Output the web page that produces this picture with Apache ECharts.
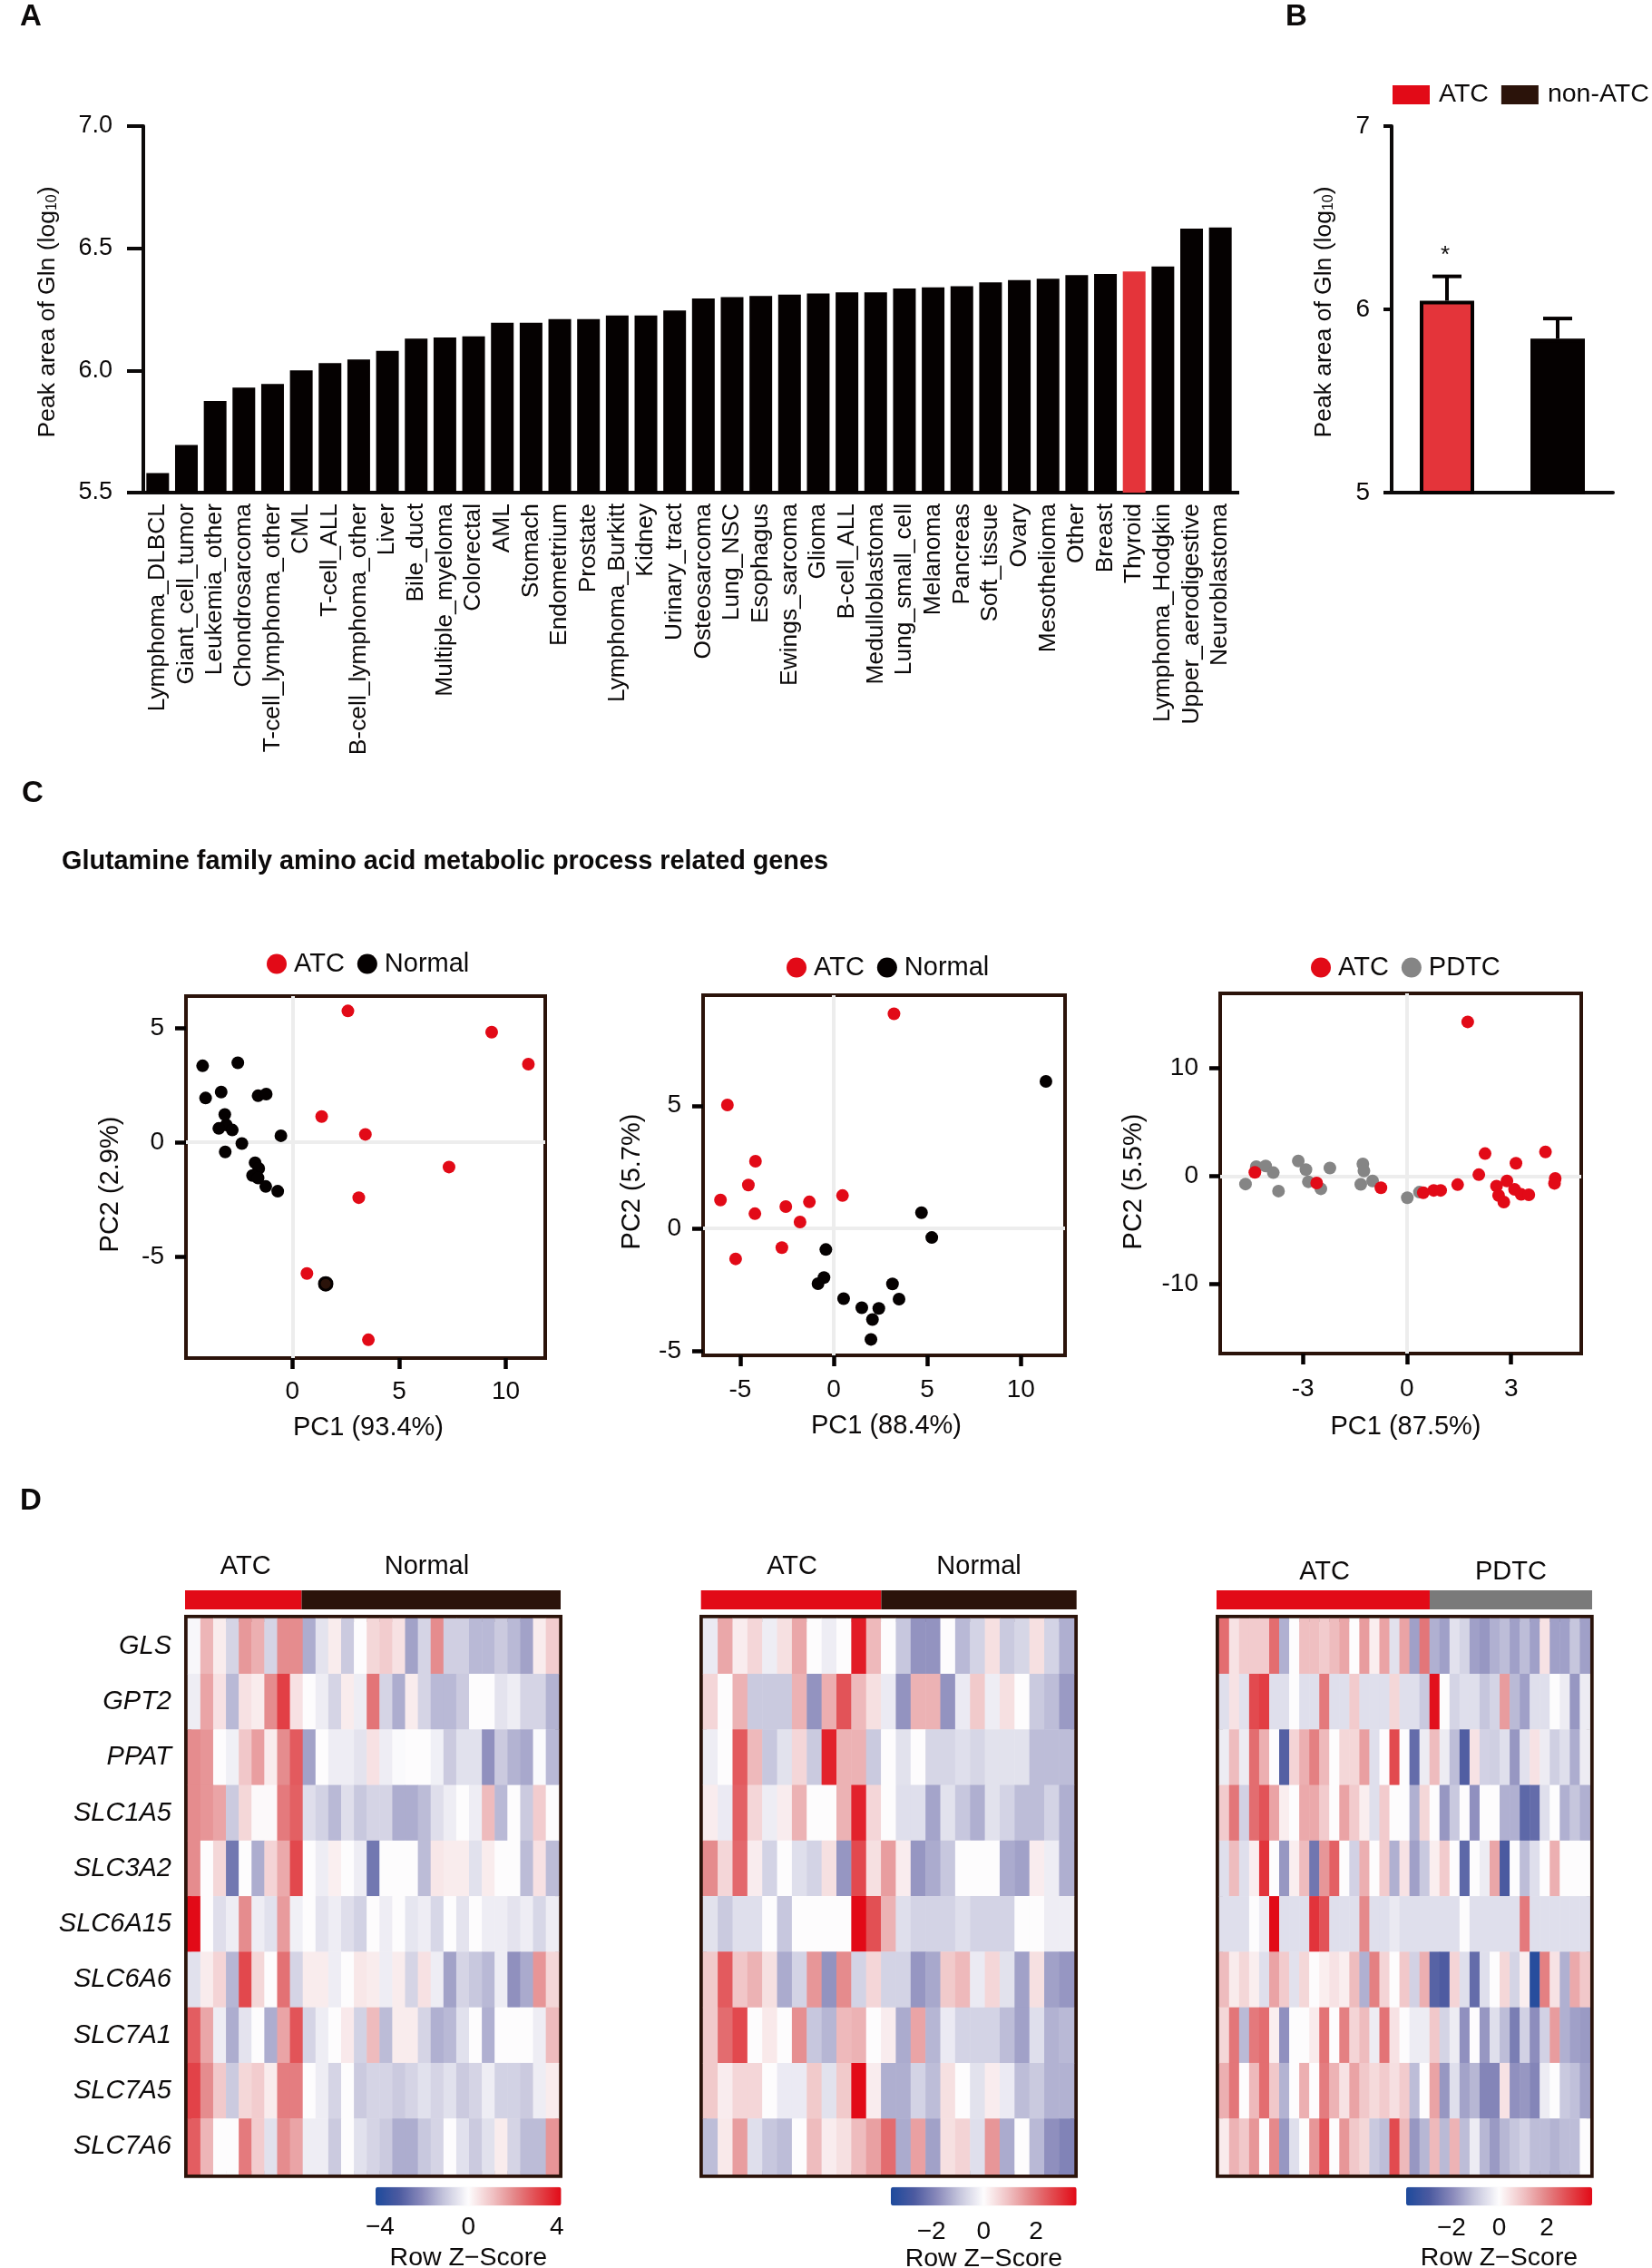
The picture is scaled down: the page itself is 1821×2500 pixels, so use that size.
<!DOCTYPE html>
<html>
<head>
<meta charset="utf-8">
<title>Gln figure</title>
<script src="https://cdn.jsdelivr.net/npm/echarts@6/dist/echarts.min.js"></script>
<style>
  html, body { margin: 0; padding: 0; background: #fff; }
  #main { width: 1821px; height: 2500px; }
</style>
</head>
<body>
<div id="main"></div>
<script>
// panel A
const tumorTypes = ['Lymphoma_DLBCL','Giant_cell_tumor','Leukemia_other','Chondrosarcoma','T-cell_lymphoma_other','CML','T-cell_ALL','B-cell_lymphoma_other','Liver','Bile_duct','Multiple_myeloma','Colorectal','AML','Stomach','Endometrium','Prostate','Lymphoma_Burkitt','Kidney','Urinary_tract','Osteosarcoma','Lung_NSC','Esophagus','Ewings_sarcoma','Glioma','B-cell_ALL','Medulloblastoma','Lung_small_cell','Melanoma','Pancreas','Soft_tissue','Ovary','Mesothelioma','Other','Breast','Thyroid','Lymphoma_Hodgkin','Upper_aerodigestive','Neuroblastoma'];
const tumorGln = [5.58,5.695,5.875,5.93,5.945,6.0,6.03,6.045,6.08,6.13,6.135,6.14,6.195,6.195,6.21,6.21,6.225,6.225,6.245,6.295,6.30,6.305,6.31,6.315,6.32,6.32,6.335,6.34,6.345,6.36,6.37,6.375,6.39,6.395,6.405,6.425,6.58,6.585];

// panel B
const groupNames = ['ATC','non-ATC'];
const groupMean = [6.047,5.84];
const groupErrTop = [6.18,5.95];
const groupMark = ['*',''];

// panel C, [PC1, PC2]
const pcaLeftAtc = [[2.6,5.74],[9.34,4.81],[11.06,3.41],[1.37,1.12],[3.42,0.34],[7.34,-1.09],[3.11,-2.43],[0.68,-5.75],[3.56,-8.65]];
const pcaLeftNormal = [[-4.21,3.34],[-2.56,3.47],[-3.34,2.19],[-4.07,1.93],[-1.61,2.03],[-1.23,2.1],[-3.17,1.21],[-3.1,0.75],[-3.45,0.6],[-2.82,0.53],[-0.54,0.28],[-2.37,-0.06],[-3.15,-0.43],[-1.75,-0.9],[-1.58,-1.15],[-1.87,-1.46],[-1.61,-1.57],[-1.25,-1.94],[-0.69,-2.15],[1.56,-6.2]];
const pcaMidAtc = [[3.22,8.74],[-5.68,5.03],[-4.18,2.74],[-4.56,1.77],[-6.05,1.16],[0.47,1.34],[-1.3,1.08],[-2.56,0.89],[-4.21,0.6],[-1.8,0.26],[-2.77,-0.78],[-5.24,-1.24]];
const pcaMidNormal = [[11.34,5.99],[4.69,0.64],[5.24,-0.37],[-0.42,-0.86],[-0.52,-2.0],[-0.84,-2.25],[0.53,-2.86],[1.5,-3.23],[2.41,-3.26],[2.07,-3.71],[1.99,-4.52],[3.14,-2.26],[3.49,-2.88]];
const pcaRightAtc = [[1.75,14.24],[3.99,2.23],[2.25,2.07],[3.14,1.18],[2.07,0.12],[2.88,-0.46],[4.27,-0.22],[4.25,-0.68],[2.58,-0.93],[3.1,-1.24],[2.64,-1.8],[2.79,-2.41],[3.29,-1.7],[3.51,-1.73],[1.46,-0.8],[0.77,-1.33],[0.97,-1.33],[0.47,-1.55],[-0.75,-1.08],[-2.6,-0.65],[-4.38,0.34]];
const pcaRightPdtc = [[-4.65,-0.74],[-4.34,0.87],[-4.07,0.93],[-3.85,0.31],[-3.7,-1.39],[-3.13,1.39],[-2.91,0.59],[-2.84,-0.53],[-2.48,-1.18],[-2.22,0.74],[-1.27,1.11],[-1.24,0.46],[-1.33,-0.77],[-0.99,-0.46],[0.01,-2.01],[0.36,-1.49]];

// panel D, rows follow geneNames, columns are samples
const geneNames = ['GLS','GPT2','PPAT','SLC1A5','SLC3A2','SLC6A15','SLC6A6','SLC7A1','SLC7A5','SLC7A6'];
const heatLeft = [
  [-0.1,1.3,0.3,-0.8,1.8,1.4,-0.8,2,2,-1.5,-0.5,0.3,-1,0,0.7,0.9,0.5,-1.7,-0.8,2,-0.9,-0.9,-1.3,-1.3,-1,-1.3,-1.7,0.3,0.9],
  [-0.3,1.6,0.5,-1.3,0.5,0.3,2,3.3,0.5,0,-0.3,-0.8,0.3,-0.3,2.4,-0.8,-1.5,0.3,-0.8,-1.3,-1.3,-1,0,0,-0.5,-0.3,-0.8,-0.8,-1.4],
  [2,1.85,0,-0.25,1,1.7,0.3,2,2.85,-1.7,0,-0.3,-0.3,-0.5,0.5,-0.3,-0.05,0,0,-0.25,-1,-0.55,-0.55,-2,-1,-1.4,-1.6,-0.05,-1.3],
  [2,1.85,1.6,-1,0.7,0.05,0.05,2.3,2.75,-0.6,-0.85,-1.3,-0.6,-1.05,-0.8,-0.8,-1.5,-1.5,-1.25,-0.6,-0.3,0,-0.3,1.2,-1.3,0,-1,0.9,0],
  [2,0,0.7,-2.5,0,-1.5,0.75,1.5,3.15,0,-0.3,0.25,0,-0.3,-2.5,0,0,0,-1.25,0.4,0.3,0.3,-0.55,0.3,0,0,-1.25,0.5,-1.25],
  [4.2,0,-0.6,-0.3,2,-0.3,-0.55,1.75,-0.25,0,-0.5,-0.3,-0.6,-0.85,0,-0.3,0,-0.45,-0.3,-0.75,0,-0.5,0,-0.3,-0.3,-0.5,-0.3,-0.75,-0.3],
  [-0.55,0.3,0.75,-1.35,3.15,0.7,0,2.45,-0.8,0.3,0.3,-0.3,0,0.4,0.3,-0.3,0.3,-0.8,0.5,-0.3,-1.7,-0.8,-1.05,-1.3,-0.3,-2,-1.55,1.85,0.7],
  [2.8,1.55,-0.3,-1.5,-0.5,0,-1.5,1.6,2.95,-0.8,-0.3,0,0.35,-0.85,1.2,-1.25,0.3,0.3,-0.8,-1.45,-1.3,-0.55,0,-1.45,0,0,0,-0.3,1.2],
  [3.25,2,0.95,-1,0.7,0.9,0.3,2.25,2.25,0,-0.3,-0.8,0,-1,-0.8,-0.8,-1,-0.8,-0.55,-0.8,-0.55,-1,-0.8,-0.3,-0.85,-0.85,-1,-0.3,0.3],
  [2.8,1.3,0,0,2.3,0.9,-0.55,2,1.6,-0.3,-0.3,-1,0,-0.55,-0.8,-1,-1.5,-1.5,-1.05,-0.8,0,-0.55,-1,-0.55,0.3,-0.8,-1.25,-1.25,1.85]
];
const heatMid = [
  [-0.3,1.3,0.25,0.6,-0.25,0.45,1.3,0,-0.25,0,3.3,1.05,0,-0.9,-1.65,-1.65,0,-1.1,-0.7,0.45,-0.85,-0.65,0.45,-0.7,-1.25],
  [0.6,0,1.15,-0.85,-0.85,-0.85,1.15,-1.65,1.2,2.5,1.05,0.45,-0.3,-1.65,1.15,1.15,-1.65,-0.3,0.8,-0.25,0.45,0,-0.85,-1.05,-1.55],
  [-0.25,0,2.4,1.05,-0.9,-0.45,0.6,-0.85,3.2,1.15,1.15,-0.85,0,-0.45,0,-0.65,-0.65,-0.5,-0.65,-0.45,-0.45,-0.45,-1.05,-1.05,-1.05],
  [0.25,-0.3,2.3,0.6,-0.25,0.25,1.15,0,0,1.15,3.2,0.6,0,-0.5,-0.5,-1.4,-0.45,-0.9,-1.25,-0.45,-0.7,-1.05,-1.05,-0.7,-1.25],
  [1.7,0.6,2.2,0.25,-0.7,0,-0.5,-0.7,0.45,-1.6,2.65,0.45,1.45,0.25,-1.6,-1.3,-0.9,0,0,0,-1.3,-1.45,0.25,-0.25,-1.25],
  [-0.45,-0.85,-0.5,-0.5,0,-0.9,0,0,0,0,3.55,2.55,1.15,-0.5,-0.7,-0.7,-0.7,-0.5,-0.7,-0.7,-0.7,0,0,-0.25,-0.25],
  [0.8,2.4,0.85,1.15,0.45,-1.3,-0.7,1.55,-1.65,1.7,-0.7,0.6,-0.7,-0.7,-1.6,-1.35,0.8,1.05,-0.3,0.6,-0.45,-1.45,0.45,-1.45,-1.6],
  [0.8,2.15,2.65,0,0.3,0,1.65,-0.9,-1.15,1.05,1.15,0,0.25,-1.3,1.35,-1.15,-0.3,-0.7,-0.7,-0.7,-1.05,-1.45,-0.5,-1.2,-1.1],
  [0.8,0.25,0.6,0.6,0,-0.3,-0.3,0.8,-0.45,0.8,3.55,0.25,-1.25,-1.25,-0.7,-1.05,0.45,0,-0.45,0.25,-0.3,-1.05,-0.85,-1.2,-1.2],
  [-1.05,0.3,1.45,-0.5,-0.9,-1.05,0,1,0.25,0.45,1,1.4,2.15,-1.3,1.4,-1.45,0.45,0.65,-0.5,1.55,-1.3,0,-1.1,-1.7,-1.9]
];
const heatRight = [
  [2.35,0.45,0.85,0.85,0.85,2.35,-1.35,0,1.05,1.05,0.85,1.1,1.45,0,1.6,0.25,1.5,-0.5,1.5,-1.6,2.2,-1.35,-1.6,-0.5,-0.75,-1.6,-1.75,-1.35,-1.15,-1.6,-1.15,-1.6,0.45,-1.6,-1.6,-1,-1.6],
  [-0.55,0.45,-0.5,2.9,3.1,-0.55,-0.55,0,-0.55,-0.55,2.15,-0.55,-0.55,0.85,-0.55,-0.55,-0.55,0.65,-0.55,-0.55,-0.95,3.8,0,-0.75,-0.55,-0.55,-1,-0.75,1.6,-1.2,-1.6,-0.55,-0.55,0,-0.3,-1.75,-0.3],
  [-0.3,1.1,-0.3,2.35,1.3,0,-2.8,0.7,1.3,2.05,1.15,0,0.65,0.65,1.55,-0.55,0,2.9,0,-2.55,-0.3,1.1,-0.3,-1.15,-2.85,0.45,-0.8,-0.85,-0.55,-1.75,-0.5,0.45,-0.3,-0.85,-0.55,-1.4,-0.3],
  [0.85,2.2,-0.8,2.35,2.75,1.5,0.25,0,1.4,1.4,0.85,0,1.5,0.85,0.25,-0.55,0.85,0,0,-1.35,0.65,0,-1.75,-0.95,0,-1.85,0,0,-1.35,-1.35,-2.65,-2.55,-0.55,0,-1.35,-1,-1.35],
  [-0.55,1.1,-0.55,0.25,3.25,0,-1.75,0.25,1.1,-2.35,1.7,2.55,0,-0.8,1.3,0,0.85,-1.35,0.45,-1.6,-0.95,0.25,0.85,0,-2.65,0,-0.3,1.45,-2.95,0,-1.15,-0.55,0,1.3,0,0,0],
  [-0.55,-0.55,-0.55,0,-0.3,3.9,-0.55,-0.55,-0.55,3.25,2.75,-0.55,-0.55,-0.55,1.9,-0.55,-0.55,-0.35,-0.55,-0.55,-0.55,-0.55,-0.55,-0.55,0,-0.55,-0.55,-0.55,-0.55,-0.55,2.15,-0.55,-0.55,-0.55,-0.55,-0.55,-0.55],
  [1.1,0.3,0.65,0.25,-0.55,1.5,0.85,-0.5,0.65,0,0.25,0.45,0.25,1.1,-1.35,2.05,0.7,0,0.9,-0.8,1.3,-2.75,-2.9,0.7,-0.55,-2.55,-0.55,0,0.65,-0.75,0.25,-3.7,2.05,0.45,-1.35,1.4,0.9],
  [0.65,2.2,-1.2,2.15,2.35,0.25,-1.85,0,0,0.3,2.25,0,2.05,0.7,1.1,-0.3,2.25,0.45,0,-0.3,-0.3,0.9,-0.75,-0.3,-1.85,0,-1.75,-0.55,-1.15,-2.2,-0.8,-1.9,-0.8,1.6,-1.35,-1.6,-1.7],
  [1.3,2.2,0,1.15,2.35,0.9,-1.3,0,1.3,0,2.1,1.25,0.45,1.5,0.9,0.6,0.85,0.5,0.85,-1.15,0,1.5,-1.75,-0.55,-1.55,-1.25,-2.05,-2.05,0.45,-1.85,-1.75,-2.05,-0.3,0,-0.95,-1.1,-1.55],
  [0.3,1.25,0.9,1.7,0,1.9,-1.75,-0.55,0,1.7,2.75,0,1.7,0.9,0.65,-0.95,-1.15,2.9,1.15,-1.75,-1.25,1.15,-1.2,1.25,-1.15,-0.3,-1.25,-1.7,-1.25,-1,-0.8,-1.15,-1.15,-1.3,-1.15,-1.15,0]
];

const FONT = '"Liberation Sans", Arial, sans-serif';
const INK = '#0c0a0a';
const RED = '#e20a17';
const BROWN = '#2b130a';
const GREY = '#858585';
const ramp = ['#1d4a9c','#4c5aa0','#8a8abb','#c8c8de','#fdfcfd','#f0c4c6','#e48688','#e2484d','#e20a17'];

const grids = [], xAxes = [], yAxes = [], series = [], legends = [], visualMaps = [];

function addGrid(g, x, y) {
  const idx = grids.length;
  grids.push(g);
  xAxes.push(Object.assign({ gridIndex: idx }, x));
  yAxes.push(Object.assign({ gridIndex: idx }, y));
  return idx;
}

const glnTitleStyle = {
  padding: [0, 6, 0, 0],
  rich: {
    t: { fontSize: 26.5, color: INK, fontFamily: FONT },
    s: { fontSize: 16, color: INK, fontFamily: FONT, verticalAlign: 'bottom' }
  }
};

// panel A
const gridA = addGrid({ left: 158, top: 139, width: 1203, height: 404 }, {
  type: 'category', data: tumorTypes,
  axisLine: { lineStyle: { color: INK, width: 4 } },
  axisTick: { show: false },
  axisLabel: { rotate: 90, interval: 0, fontSize: 26.4, margin: 12, color: INK, fontFamily: FONT }
}, {
  type: 'value', min: 5.5, max: 7, interval: 0.5,
  name: '{t|Peak area of Gln (log}{s|10}{t|)}', nameLocation: 'middle', nameGap: 92, nameRotate: 90,
  nameTextStyle: glnTitleStyle,
  axisLine: { show: true, lineStyle: { color: INK, width: 4 } },
  axisTick: { show: true, length: 18, lineStyle: { color: INK, width: 4 } },
  axisLabel: { fontSize: 27, margin: 34, color: INK, fontFamily: FONT, padding: [3, 0, 0, 0], formatter: v => v.toFixed(1) },
  splitLine: { show: false }
});
series.push({
  type: 'bar', xAxisIndex: gridA, yAxisIndex: gridA, barWidth: 25, silent: true,
  data: tumorGln.map((v, i) => ({ value: v, itemStyle: { color: tumorTypes[i] === 'Thyroid' ? '#e4343a' : '#050101' } }))
});

// panel B
const gridB = addGrid({ left: 1534, top: 139, width: 244, height: 404 }, {
  type: 'category', data: groupNames,
  axisLine: { lineStyle: { color: INK, width: 4 } },
  axisTick: { show: false }, axisLabel: { show: false }
}, {
  type: 'value', min: 5, max: 7, interval: 1,
  name: '{t|Peak area of Gln (log}{s|10}{t|)}', nameLocation: 'middle', nameGap: 61, nameRotate: 90,
  nameTextStyle: glnTitleStyle,
  axisLine: { show: true, lineStyle: { color: INK, width: 4 } },
  axisTick: { show: true, length: 9, lineStyle: { color: INK, width: 4 } },
  axisLabel: { fontSize: 28, margin: 24, color: INK, fontFamily: FONT, padding: [3, 0, 0, 0] },
  splitLine: { show: false }
});
series.push({
  name: 'ATC', type: 'bar', xAxisIndex: gridB, yAxisIndex: gridB, barWidth: 60, barGap: '-100%', silent: true,
  itemStyle: { color: '#e4343a', borderColor: '#050101', borderWidth: 4 },
  data: [groupMean[0], '-']
});
series.push({
  name: 'non-ATC', type: 'bar', xAxisIndex: gridB, yAxisIndex: gridB, barWidth: 60, barGap: '-100%', silent: true,
  itemStyle: { color: '#050101', borderColor: '#050101', borderWidth: 4 },
  data: ['-', groupMean[1]]
});
series.push({
  type: 'custom', xAxisIndex: gridB, yAxisIndex: gridB, silent: true, z: 1,
  data: groupNames.map((n, i) => [i, groupErrTop[i], groupMean[i]]),
  renderItem: (params, api) => {
    const top = api.coord([api.value(0), api.value(1)]);
    const bottom = api.coord([api.value(0), api.value(2)]);
    const style = { stroke: '#050101', lineWidth: 4, fill: null };
    const kids = [
      { type: 'line', shape: { x1: top[0], y1: top[1], x2: bottom[0], y2: bottom[1] }, style },
      { type: 'line', shape: { x1: top[0] - 16, y1: top[1], x2: top[0] + 16, y2: top[1] }, style }
    ];
    const mark = groupMark[params.dataIndex];
    if (mark) {
      kids.push({ type: 'text', style: { text: mark, x: top[0] - 2, y: top[1] - 23, fill: INK, fontSize: 26, fontFamily: FONT, align: 'center', verticalAlign: 'middle' } });
    }
    return { type: 'group', children: kids };
  }
});
legends.push({
  left: 1535, top: 90, padding: 0, icon: 'rect', itemWidth: 41, itemHeight: 21, itemGap: 14, selectedMode: false,
  textStyle: { fontSize: 28.5, color: INK, fontFamily: FONT, padding: [0, 0, 0, 5] },
  data: [
    { name: 'ATC', itemStyle: { color: RED, borderWidth: 0 } },
    { name: 'non-ATC', itemStyle: { color: BROWN, borderWidth: 0 } }
  ]
});

// panel C
function addPca(p) {
  const idx = addGrid({
    left: p.box[0], top: p.box[1], width: p.box[2] - p.box[0], height: p.box[3] - p.box[1],
    show: true, borderColor: BROWN, borderWidth: 4, backgroundColor: 'transparent'
  }, {
    type: 'value', min: p.xRange[0], max: p.xRange[1],
    name: p.xName, nameLocation: 'middle', nameGap: p.xNameGap,
    nameTextStyle: { fontSize: 29, color: INK, fontFamily: FONT, padding: [0, 0, 0, p.xNameShift] },
    axisLine: { show: true, onZero: false, lineStyle: { color: BROWN, width: 4 } }, splitLine: { show: false },
    axisTick: { show: true, length: 12, lineStyle: { color: '#050101', width: 4.5 }, customValues: p.xTicks },
    axisLabel: { fontSize: 28, margin: p.xLabelMargin, color: INK, fontFamily: FONT, customValues: p.xTicks }
  }, {
    type: 'value', min: p.yRange[0], max: p.yRange[1],
    name: p.yName, nameLocation: 'middle', nameGap: p.yNameGap, nameRotate: 90,
    nameTextStyle: { fontSize: 29, color: INK, fontFamily: FONT, padding: [0, p.yNameShift, 0, 0] },
    axisLine: { show: true, onZero: false, lineStyle: { color: BROWN, width: 4 } }, splitLine: { show: false },
    axisTick: { show: true, length: 12, lineStyle: { color: '#050101', width: 4.5 }, customValues: p.yTicks },
    axisLabel: { fontSize: 28, margin: 24, color: INK, fontFamily: FONT, padding: [3, 0, 0, 0], customValues: p.yTicks }
  });
  series.push({
    name: p.firstName, type: 'scatter', xAxisIndex: idx, yAxisIndex: idx, symbolSize: 14, silent: true,
    itemStyle: { color: p.firstColor, opacity: 1 },
    data: p.first.map((pt, i) => i === p.accent ? { value: pt, itemStyle: { color: BROWN, borderColor: '#050101', borderWidth: 3 } } : pt),
    markLine: {
      silent: true, symbol: 'none', label: { show: false }, animation: false, z: 1,
      lineStyle: { color: '#ededed', width: 4, type: 'solid' },
      data: [{ xAxis: 0 }, { yAxis: 0 }]
    }
  });
  series.push({
    name: p.secondName, type: 'scatter', xAxisIndex: idx, yAxisIndex: idx, symbolSize: 14, silent: true,
    itemStyle: { color: p.secondColor, opacity: 1 }, data: p.second
  });
  legends.push({
    left: p.legendLeft, top: p.legendTop, padding: 0, icon: 'circle', itemWidth: 22, itemHeight: 22, itemGap: 14, selectedMode: false,
    textStyle: { fontSize: 29, color: INK, fontFamily: FONT, padding: [0, 0, 0, 3] },
    data: p.legend.map(n => ({ name: n[0], itemStyle: { color: n[1], borderWidth: 0 } }))
  });
}

addPca({
  box: [205, 1098, 601, 1497], xRange: [-4.99, 11.85], yRange: [-9.45, 6.39], xTicks: [0, 5, 10], yTicks: [-5, 0, 5],
  xName: 'PC1 (93.4%)', xNameShift: 6, xNameGap: 62, xLabelMargin: 23, yName: 'PC2 (2.9%)', yNameShift: 16, yNameGap: 69,
  firstName: 'Normal', firstColor: '#050101', first: pcaLeftNormal, accent: pcaLeftNormal.length - 1,
  secondName: 'ATC', secondColor: RED, second: pcaLeftAtc,
  legendLeft: 294, legendTop: 1048,
  legend: [['ATC', RED], ['Normal', '#050101']]
});
addPca({
  box: [775, 1097, 1174, 1494], xRange: [-6.98, 12.36], yRange: [-5.17, 9.5], xTicks: [-5, 0, 5, 10], yTicks: [-5, 0, 5],
  xName: 'PC1 (88.4%)', xNameShift: 5, xNameGap: 63, xLabelMargin: 24, yName: 'PC2 (5.7%)', yNameShift: 14, yNameGap: 64,
  firstName: 'Normal', firstColor: '#050101', first: pcaMidNormal, accent: -1,
  secondName: 'ATC', secondColor: RED, second: pcaMidAtc,
  legendLeft: 867, legendTop: 1052,
  legend: [['ATC', RED], ['Normal', '#050101']]
});
addPca({
  box: [1345, 1095, 1743, 1492], xRange: [-5.38, 5.02], yRange: [-16.4, 16.87], xTicks: [-3, 0, 3], yTicks: [-10, 0, 10],
  xName: 'PC1 (87.5%)', xNameShift: 11, xNameGap: 66, xLabelMargin: 25, yName: 'PC2 (5.5%)', yNameShift: 18, yNameGap: 81,
  firstName: 'PDTC', firstColor: GREY, first: pcaRightPdtc, accent: -1,
  secondName: 'ATC', secondColor: RED, second: pcaRightAtc,
  legendLeft: 1445, legendTop: 1052,
  legend: [['ATC', RED], ['PDTC', GREY]]
});

// panel D
function addHeat(h) {
  const cols = h.rows[0].map((v, i) => i);
  const cells = [];
  h.rows.forEach((row, r) => row.forEach((z, c) => cells.push([c, r, z])));
  const idx = addGrid({
    left: h.cells[0], top: 1784, width: h.cells[1] - h.cells[0], height: 612.7,
    show: true, borderColor: BROWN, borderWidth: 8, backgroundColor: '#fff'
  }, {
    type: 'category', data: cols, show: false
  }, {
    type: 'category', data: geneNames, inverse: true,
    axisLine: { show: false }, axisTick: { show: false },
    axisLabel: { show: h.labels, interval: 0, fontSize: 29, fontStyle: 'italic', margin: 18, color: INK, fontFamily: FONT }
  });
  const heatIndex = series.length;
  series.push({ type: 'heatmap', xAxisIndex: idx, yAxisIndex: idx, data: cells, silent: true, progressive: 0 });

  // group strip above the cells, one stacked bar per group
  const stripTotal = h.groups[0].n + h.groups[1].n;
  const strip = addGrid({ left: h.strip[0], top: 1753, width: h.strip[1] - h.strip[0], height: 21 }, {
    type: 'value', min: 0, max: stripTotal, show: false
  }, {
    type: 'category', data: ['group'], show: false
  });
  h.groups.forEach(g => {
    series.push({
      type: 'bar', stack: 'strip' + strip, xAxisIndex: strip, yAxisIndex: strip, barWidth: '100%', silent: true,
      itemStyle: { color: g.color }, data: [g.n],
      label: { show: true, position: 'top', distance: h.labelGap, offset: [g.shift, 0], formatter: g.name, fontSize: 29, color: INK, fontFamily: FONT }
    });
  });

  // colour scale under the cells
  visualMaps.push({
    type: 'continuous', seriesIndex: heatIndex, min: -h.range, max: h.range,
    orient: 'horizontal', left: h.bar[0], top: 2410.7, itemWidth: 20.6, itemHeight: h.bar[1] - h.bar[0],
    padding: 0, calculable: false, hoverLink: false, realtime: false,
    inRange: { color: ramp }
  });
  addGrid({ left: h.bar[0], top: 2431, width: h.bar[1] - h.bar[0], height: 1 }, {
    type: 'value', min: -h.range, max: h.range,
    name: 'Row Z\u2212Score', nameLocation: 'middle', nameGap: 43,
    nameTextStyle: { fontSize: 28.5, color: INK, fontFamily: FONT },
    axisLine: { show: false, onZero: false }, axisTick: { show: false }, splitLine: { show: false },
    axisLabel: {
      fontSize: 28, margin: h.tickMargin, color: INK, fontFamily: FONT, customValues: h.ticks,
      formatter: v => String(v).replace('-', '\u2212')
    }
  }, {
    type: 'value', show: false, min: 0, max: 1
  });
}

addHeat({
  rows: heatLeft, cells: [207, 616], strip: [204, 618], labels: true, labelGap: 12,
  groups: [{ name: 'ATC', n: 9, color: RED, shift: 2.5 }, { name: 'Normal', n: 20, color: BROWN, shift: -4.8 }],
  range: 4.2, bar: [414, 618.6], ticks: [-4, 0, 4], tickMargin: 10
});
addHeat({
  rows: heatMid, cells: [775, 1184], strip: [772.7, 1186.7], labels: false, labelGap: 12,
  groups: [{ name: 'ATC', n: 12, color: RED, shift: 1 }, { name: 'Normal', n: 13, color: BROWN, shift: 0 }],
  range: 3.55, bar: [982, 1186.7], ticks: [-2, 0, 2], tickMargin: 15
});
addHeat({
  rows: heatRight, cells: [1344, 1752.7], strip: [1341, 1755], labels: false, labelGap: 6,
  groups: [{ name: 'ATC', n: 21, color: RED, shift: 1.6 }, { name: 'PDTC', n: 16, color: '#7a7a7a', shift: 0 }],
  range: 3.9, bar: [1550, 1755], ticks: [-2, 0, 2], tickMargin: 11
});

const letter = (text, left, top) => ({
  text, left, top, padding: 0,
  textStyle: { fontSize: 33, fontWeight: 'bold', color: INK, fontFamily: FONT }
});

const myChart = echarts.init(document.getElementById('main'), null, { renderer: 'canvas' });
myChart.setOption({
  animation: false,
  backgroundColor: '#fff',
  title: [
    letter('A', 22, 2), letter('B', 1417, 2), letter('C', 24, 858), letter('D', 22, 1638),
    { text: 'Glutamine family amino acid metabolic process related genes', left: 68, top: 936, padding: 0,
      textStyle: { fontSize: 28.8, fontWeight: 'bold', color: INK, fontFamily: FONT } }
  ],
  grid: grids,
  xAxis: xAxes,
  yAxis: yAxes,
  legend: legends,
  visualMap: visualMaps,
  series: series,
  // axis line of panel A runs a little past the last bar
  graphic: [{ type: 'rect', shape: { x: 1360, y: 541, width: 6, height: 4 }, style: { fill: INK }, silent: true }]
});
</script>
</body>
</html>
